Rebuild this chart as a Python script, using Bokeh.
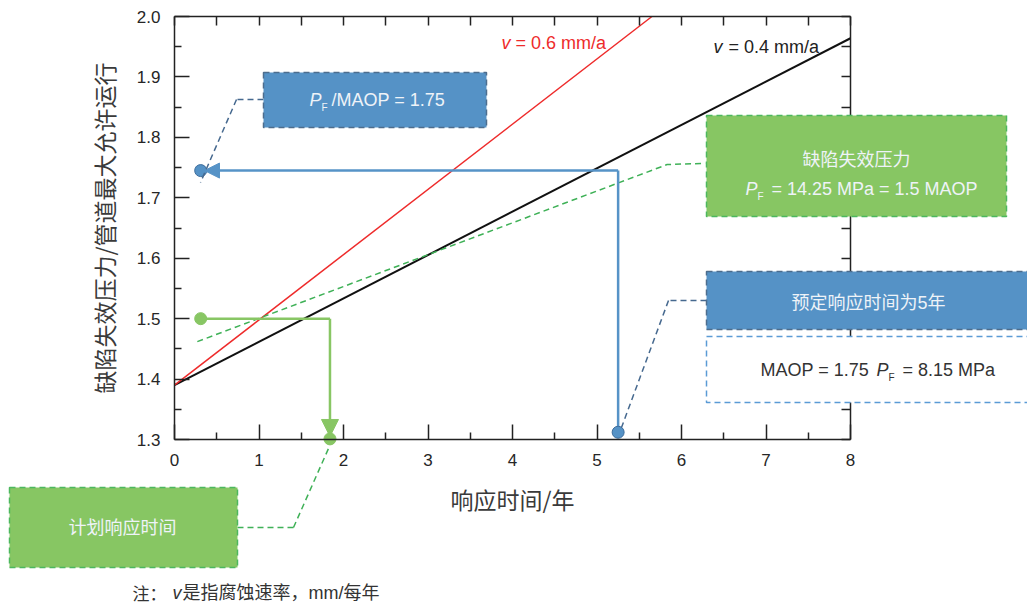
from bokeh.plotting import figure
from bokeh.models import (LinearAxis, FixedTicker, Range1d, BoxAnnotation, Label,
                          Arrow, NormalHead)
from bokeh.embed import file_html
from bokeh.resources import INLINE

# ---------------- data ----------------
x_ticks = [0, 1, 2, 3, 4, 5, 6, 7, 8]
x_minor = [0.5, 1.5, 2.5, 3.5, 4.5, 5.5, 6.5, 7.5]
y_ticks = [1.3, 1.4, 1.5, 1.6, 1.7, 1.8, 1.9, 2.0]
y_tick_labels = ["1.3", "1.4", "1.5", "1.6", "1.7", "1.8", "1.9", "2.0"]
y_minor = [1.35, 1.45, 1.55, 1.65, 1.75, 1.85, 1.95]

v04_x = [0, 8]
v04_y = [1.39, 1.964]
v06_x = [0, 5.65]
v06_y = [1.39, 2.0]

pf_x = [0.27, 5.83, 6.28]
pf_y = [1.462, 1.755, 1.757]

blue_x = [5.25, 5.25, 0.355]
blue_y = [1.312, 1.745, 1.745]
blue_pts_x = [5.25, 0.31]
blue_pts_y = [1.312, 1.745]

green_x = [0.31, 1.84, 1.84]
green_y = [1.5, 1.5, 1.305]
green_pts_x = [0.31, 1.84]
green_pts_y = [1.5, 1.301]

# ---------------- layout helpers ----------------
W, H = 1027, 606
FX0, FX1 = 174, 850   # page px of x = 0 and x = 8
FY0, FY1 = 16, 439    # page px of y = 2.0 and y = 1.3


def X(px):
    return (px - FX0) / (FX1 - FX0) * 8


def Y(py):
    return 2.0 - (py - FY0) / (FY1 - FY0) * 0.7


SANS = "Liberation Sans, Noto Sans CJK SC"
CJK = "Noto Sans CJK SC"
BLUE = "#5693c7"
GREEN = "#88c664"
DGREEN = "#3fb157"
BOXBLUE = "#5592c6"
BOXGREEN = "#87c663"

p = figure(width=W, height=H,
           x_range=Range1d(X(0), X(W)), y_range=Range1d(Y(H), Y(0)),
           x_axis_type=None, y_axis_type=None,
           output_backend="svg", toolbar_location=None,
           min_border=0, min_border_left=0, min_border_right=0,
           min_border_top=0, min_border_bottom=0)
p.outline_line_color = None
p.background_fill_color = "white"
p.border_fill_color = "white"


def style_axis(ax, tick_in, minor_in, labels=True):
    ax.axis_line_color = "#222222"
    ax.axis_line_width = 1.5
    ax.major_tick_line_color = "#222222"
    ax.minor_tick_line_color = "#222222"
    ax.major_tick_line_width = 1.5
    ax.minor_tick_line_width = 1.5
    ax.major_tick_in = tick_in
    ax.major_tick_out = 0
    ax.minor_tick_in = minor_in
    ax.minor_tick_out = 0
    if labels:
        ax.major_label_text_font = "Liberation Sans"
        ax.major_label_text_font_size = "17px"
        ax.major_label_text_color = "#262626"
        ax.major_label_standoff = 14
        ax.axis_label_text_font = CJK
        ax.axis_label_text_font_size = "23px"
        ax.axis_label_text_font_style = "normal"
        ax.axis_label_text_color = "#3a3a3a"
        ax.axis_label_standoff = 13
    else:
        ax.major_label_text_color = None


xb = LinearAxis(ticker=FixedTicker(ticks=x_ticks, minor_ticks=x_minor), axis_label="响应时间/年",
                fixed_location=1.3, bounds=(0, 8))
style_axis(xb, 15, 7)
p.add_layout(xb, "below")

yl = LinearAxis(ticker=FixedTicker(ticks=y_ticks, minor_ticks=y_minor),
                axis_label="缺陷失效压力/管道最大允许运行",
                major_label_overrides={t: s for t, s in zip(y_ticks, y_tick_labels)},
                fixed_location=0, bounds=(1.3, 2.0))
style_axis(yl, 15, 7)
p.add_layout(yl, "left")

xt = LinearAxis(ticker=FixedTicker(ticks=x_ticks, minor_ticks=x_minor),
                fixed_location=2.0, bounds=(0, 8))
style_axis(xt, 9, 9, labels=False)
p.add_layout(xt, "above")

yr = LinearAxis(ticker=FixedTicker(ticks=y_ticks, minor_ticks=y_minor),
                fixed_location=8, bounds=(1.3, 2.0))
style_axis(yr, 9, 9, labels=False)
p.add_layout(yr, "right")

# ---------------- data lines ----------------
p.line(v04_x, v04_y, line_color="#111111", line_width=2)
p.line(v06_x, v06_y, line_color="#ee2b2b", line_width=1.5)
p.line(pf_x, pf_y, line_color=DGREEN, line_width=1.5, line_dash="6 4")

p.line(blue_x[:2], blue_y[:2], line_color=BLUE, line_width=2.5)
p.line(green_x[:2], green_y[:2], line_color=GREEN, line_width=2.5)

p.scatter(blue_pts_x, blue_pts_y, size=12, fill_color=BOXBLUE, line_color="#3d6d9c", line_width=1)
p.scatter(green_pts_x, green_pts_y, size=12, fill_color=GREEN, line_color=GREEN)

p.add_layout(Arrow(x_start=blue_x[1], y_start=blue_y[1], x_end=blue_x[2], y_end=blue_y[2],
                   line_color=BLUE, line_width=2.5,
                   end=NormalHead(size=15, fill_color=BLUE, line_color=BLUE, line_width=1)))
p.add_layout(Arrow(x_start=green_x[1], y_start=green_y[1], x_end=green_x[2], y_end=green_y[2],
                   line_color=GREEN, line_width=2.5,
                   end=NormalHead(size=17, fill_color=GREEN, line_color=GREEN, line_width=1)))


# ---------------- callouts ----------------
def seg(pts, color):
    for (a, b), (c, d) in zip(pts[:-1], pts[1:]):
        p.add_layout(Arrow(x_start=X(a), y_start=Y(b), x_end=X(c), y_end=Y(d), end=None,
                           line_color=color, line_width=1.5, line_dash="6 4"))


def box(l, t, r, b, fill, line):
    p.add_layout(BoxAnnotation(left=X(l), right=X(r), top=Y(t), bottom=Y(b),
                               fill_color=fill, fill_alpha=1.0, line_color=line,
                               line_alpha=1.0, line_width=1.5, line_dash="6 4",
                               level="annotation"))


def label(px, py, text, size, color, font=SANS, style="normal", align="left"):
    p.add_layout(Label(x=X(px), y=Y(py), text=text, text_font=font,
                       text_font_size=f"{size}px", text_color=color, text_font_style=style,
                       text_align=align, text_baseline="middle", level="overlay"))


seg([(263, 99), (236, 99), (200, 182)], "#46698f")
seg([(706, 300), (668, 300), (621, 427)], "#46698f")
seg([(237, 527), (293, 527), (328, 448)], DGREEN)

box(263, 72, 486, 127, BOXBLUE, "#4d6d8d")
box(706, 115, 1006, 216, BOXGREEN, "#4cb85e")
box(706, 271, 1040, 329, BOXBLUE, "#4d6d8d")
box(706, 336, 1040, 402, "white", "#5b9bd5")
box(9, 487, 237, 567, BOXGREEN, "#4cb85e")

LT = "#eef3f8"
# P_F / MAOP = 1.75
label(309, 99, "P", 18, LT, style="italic")
label(321, 107, "F", 10, LT)
label(331, 99, "/MAOP = 1.75", 18, LT)

# green box
label(856, 157, "缺陷失效压力", 18, LT, font=CJK, align="center")
label(745, 188, "P", 18, LT, style="italic")
label(757, 196, "F", 10, LT)
label(771, 188, "= 14.25 MPa = 1.5 MAOP", 18, LT)

# blue box
label(868, 302, "预定响应时间为5年", 18, LT, align="center")

# white box
label(760, 369, "MAOP = 1.75", 18, "#333333")
label(876, 369, "P", 18, "#333333", style="italic")
label(888, 377, "F", 10, "#333333")
label(902, 369, "= 8.15 MPa", 18, "#333333")

# bottom-left box
label(122, 525, "计划响应时间", 18, LT, font=CJK, align="center")

# line labels
label(501, 42, "v", 18, "#ee2b2b", style="italic")
label(515, 42, "= 0.6 mm/a", 18, "#ee2b2b")
label(713, 46, "v", 18, "#222222", style="italic")
label(728, 46, "= 0.4 mm/a", 18, "#222222")

# note
label(132, 592, "注：", 17, "#333333", font=CJK)
label(172, 592, "v", 18, "#333333", style="italic")
label(182, 592, "是指腐蚀速率，mm/每年", 18, "#333333")

open("out.html", "w").write(file_html(p, INLINE))
